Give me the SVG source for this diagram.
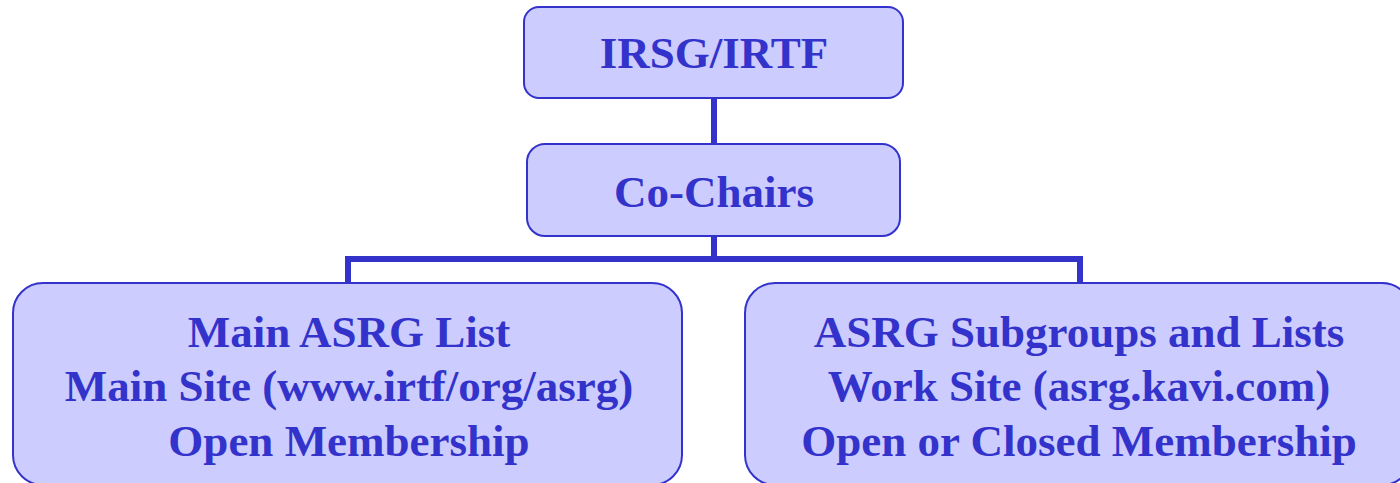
<svg xmlns="http://www.w3.org/2000/svg" width="1400" height="483" viewBox="0 0 1400 483">
<style>
.box{fill:#CCCCFF;stroke:#3333CC;stroke-width:2}
.t{font-family:"Liberation Serif","Times New Roman",serif;font-weight:bold;font-size:45px;fill:#3333CC;text-anchor:middle}
.c{stroke:#3333CC;stroke-width:6;fill:none}
</style>
<rect width="1400" height="483" fill="#FFFFFF"/>
<g id="connectors">
<line class="c" x1="714" y1="98" x2="714" y2="145"/>
<line class="c" x1="714" y1="236" x2="714" y2="259"/>
<line class="c" x1="345" y1="259" x2="1083" y2="259"/>
<line class="c" x1="348" y1="259" x2="348" y2="284"/>
<line class="c" x1="1080" y1="259" x2="1080" y2="284"/>
</g>
<g id="irsg">
<rect class="box" x="524" y="7" width="379" height="91" rx="15" ry="15"/>
<text class="t" x="714" y="68">IRSG/IRTF</text>
</g>
<g id="cochairs">
<rect class="box" x="527" y="144" width="373" height="92" rx="18" ry="18"/>
<text class="t" x="714" y="207">Co-Chairs</text>
</g>
<g id="main">
<rect class="box" x="13" y="283" width="669" height="202" rx="30" ry="30"/>
<text class="t" x="349" y="347">Main ASRG List</text>
<text class="t" x="349" y="401">Main Site (www.irtf/org/asrg)</text>
<text class="t" x="349" y="456">Open Membership</text>
</g>
<g id="subgroups">
<rect class="box" x="745" y="283" width="667" height="202" rx="30" ry="30"/>
<text class="t" x="1079" y="347">ASRG Subgroups and Lists</text>
<text class="t" x="1079" y="401">Work Site (asrg.kavi.com)</text>
<text class="t" x="1079" y="456">Open or Closed Membership</text>
</g>
</svg>
